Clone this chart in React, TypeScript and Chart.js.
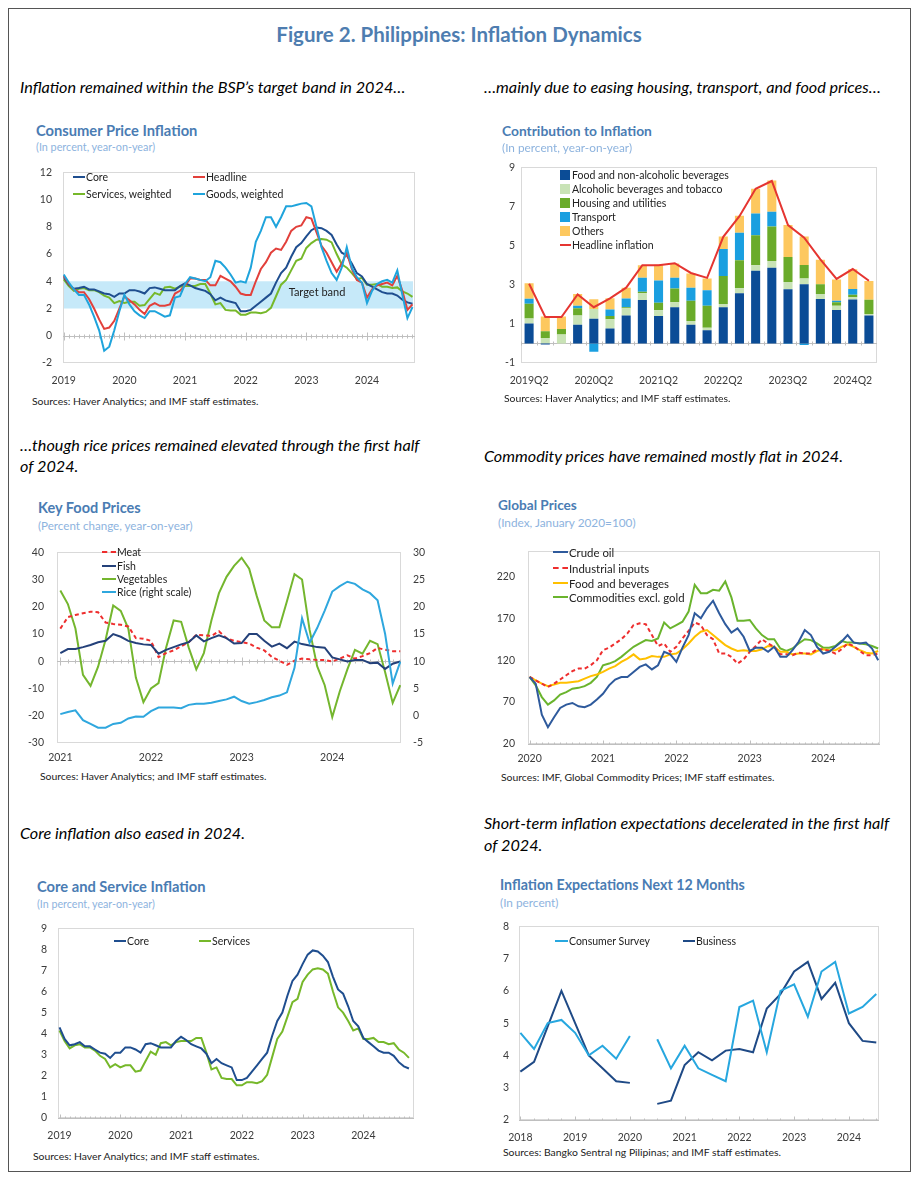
import React, { useEffect, useRef } from "react";
import { Chart, registerables } from "chart.js";

Chart.register(...registerables);

const FONT = "Lato, 'Open Sans', 'Liberation Sans', sans-serif";
Chart.defaults.font.family = FONT;
Chart.defaults.color = "#3b3b3b";
const TICK_COLOR = "#3b3b3b";

// ================= DATA =================
// Panel 1 & 5: monthly, Jan 2019 - Oct 2024
const cpiYearLabels = ["2019", "2020", "2021", "2022", "2023", "2024"];
const coreInflation = [
  4.3, 3.75, 3.45, 3.5, 3.6, 3.4, 3.4, 3.25, 3.1, 3.05, 2.85, 3.1,
  3.1, 3.35, 3.35, 3.25, 3.1, 3.5, 3.55, 3.45, 3.35, 3.35, 3.35, 3.65,
  3.85, 3.7, 3.5, 3.4, 3.3, 3.05, 2.6, 2.8, 2.6, 2.5, 2.4, 1.8,
  1.8, 1.9, 2.2, 2.5, 2.8, 3.1, 3.9, 4.6, 5.0, 5.8, 6.5, 6.8,
  7.3, 7.75, 7.95, 7.9, 7.7, 7.4, 6.7, 6.1, 5.9, 5.3, 4.6, 4.35,
  3.8, 3.6, 3.4, 3.2, 3.1, 3.1, 2.95, 2.65, 2.45, 2.35,
];
const servicesInflation = [
  4.15, 3.65, 3.3, 3.45, 3.5, 3.35, 3.35, 3.2, 2.95, 2.8, 2.4, 2.55,
  2.4, 2.5, 2.5, 2.2, 2.25, 2.7, 3.15, 3.0, 3.55, 3.6, 3.45, 3.6,
  3.65, 3.65, 3.65, 3.8, 3.8, 3.1, 2.3, 2.4, 1.9, 1.85, 1.85, 1.55,
  1.55, 1.7, 1.7, 1.65, 1.75, 2.05, 2.9, 3.75, 4.1, 4.8, 5.5, 5.65,
  6.45, 6.8, 7.05, 7.1, 7.05, 6.85, 6.0, 5.25, 5.0, 4.6, 4.15, 4.25,
  3.75, 3.75, 3.8, 3.6, 3.6, 3.5, 3.55, 3.25, 3.1, 2.85,
];
const headlineInflation = [
  4.4, 3.8, 3.4, 3.2, 3.2, 2.7, 2.0, 1.2, 0.5, 0.6, 1.1, 2.0,
  2.9, 2.6, 2.3, 1.9, 1.6, 2.2, 2.4, 2.2, 2.2, 2.3, 3.1, 3.3,
  3.7, 4.2, 4.2, 4.1, 4.1, 3.7, 3.7, 4.4, 4.2, 4.0, 3.6, 3.1,
  3.0, 3.0, 4.0, 4.9, 5.4, 6.1, 6.4, 6.3, 6.9, 7.7, 8.0, 8.1,
  8.7, 8.6, 7.6, 6.6, 6.1, 5.4, 4.7, 5.3, 6.1, 4.9, 4.1, 3.9,
  2.8, 3.4, 3.7, 3.8, 3.9, 3.7, 4.4, 3.3, 1.9, 2.3,
];
const goodsInflation = [
  4.5, 3.9, 3.4, 3.0, 3.0, 2.3, 1.4, 0.4, -1.1, -0.8, 0.4, 1.8,
  3.0, 2.3, 1.8, 1.5, 1.3, 1.8, 1.8, 1.6, 1.4, 1.5, 2.8, 2.9,
  3.8, 4.3, 4.2, 4.1, 4.0, 4.3, 5.5, 5.4, 5.0, 4.5, 3.9, 4.0,
  3.9, 5.0, 6.9, 7.7, 8.7, 8.7, 8.0, 8.7, 9.5, 9.5, 9.6, 9.7,
  9.75, 9.5, 8.0, 6.5, 5.5, 4.6, 4.1, 5.0, 6.5, 5.0, 4.3, 3.9,
  2.4, 3.3, 3.8, 4.0, 4.1, 3.9, 4.8, 3.0, 1.3, 2.1,
];

// Panel 2: quarterly contributions
const contribQuarters = [
  "2019Q2", "2019Q3", "2019Q4", "2020Q1", "2020Q2", "2020Q3", "2020Q4", "2021Q1",
  "2021Q2", "2021Q3", "2021Q4", "2022Q1", "2022Q2", "2022Q3", "2022Q4", "2023Q1",
  "2023Q2", "2023Q3", "2023Q4", "2024Q1", "2024Q2", "2024Q3",
];
const contribFood = [1.02, -0.05, 0, 0.96, 1.26, 0.76, 1.43, 2.22, 1.4, 1.85, 0.96, 0.67, 1.85, 2.57, 3.71, 3.87, 2.77, 3.03, 2.27, 1.71, 2.24, 1.43];
const contribAlcohol = [0.25, 0.28, 0.45, 0.47, 0.5, 0.47, 0.37, 0.35, 0.29, 0.25, 0.18, 0.13, 0.17, 0.25, 0.29, 0.34, 0.37, 0.29, 0.25, 0.22, 0.12, 0.08];
const contribHousing = [0.76, 0.34, 0.29, 0.37, 0, 0.17, 0.05, 0.07, 0.39, 0.71, 1.04, 1.13, 1.43, 1.43, 1.53, 1.76, 1.28, 0.69, 0.5, 0.17, 0.13, 0.72];
const contribTransport = [0.25, 0, 0, 0.13, -0.42, 0.34, 0.45, 0.72, 1.13, 0.55, 0.67, 0.79, 1.38, 1.41, 1.11, 0.76, -0.03, -0.08, 0, 0.08, 0.29, 0];
const contribOthers = [0.79, 0.76, 0.64, 0.59, 0.5, 0.57, 0.55, 0.64, 0.81, 0.72, 0.72, 0.6, 0.64, 0.86, 1.26, 1.6, 1.63, 1.46, 1.26, 1.09, 1.01, 0.96];
const contribHeadline = [3.05, 1.35, 1.35, 2.5, 1.85, 2.3, 2.85, 4.0, 4.0, 4.1, 3.6, 3.35, 5.45, 6.5, 7.9, 8.3, 6.05, 5.4, 4.3, 3.3, 3.8, 3.2];

// Panel 3: monthly, Jan 2021 - Oct 2024
const foodYearLabels = ["2021", "2022", "2023", "2024"];
const meatPrices = [
  12, 16.2, 17, 17.6, 18.2, 18, 14.2, 13.7, 13.4, 12.8,
  8.5, 8.3, 7.5, 1.5, 3, 4, 5.5, 7, 9.7, 9.5,
  9.3, 11, 8.5, 7.5, 7, 6.5, 5, 4, 1.6, 0.2,
  -1.3, 0.2, 1.0, 0.7, 0.5, 0.5, -0.1, 1.0, 2.2, 1.0,
  1.9, 3.0, 4.9, 4.2, 3.7, 3.7,
];
const fishPrices = [
  3, 4.5, 4.5, 5.2, 6, 7, 7.5, 10, 9, 7.5,
  6.7, 6.2, 6, 2.8, 4.2, 5.2, 6.2, 7, 9.5, 7.3,
  8.5, 9.5, 8.5, 6.5, 6.7, 10, 10, 7.5, 5.4, 6.5,
  4.8, 7.2, 6.3, 5.8, 5.2, 5.0, 1.4, 0.7, -0.1, 0.5,
  0.5, -0.7, -0.5, -2.8, -0.9, -0.1,
];
const vegetablePrices = [
  26, 21, 12, -5, -9, -2, 8, 20.5, 18.5, 12,
  -6, -15, -10, -8, 5, 15, 14.5, 5, -3, 3,
  15, 25, 31, 35, 38, 34, 24, 15, 12.5, 12.5,
  22, 32, 30, 11.5, -1.8, -8.8, -20.5, -11, -3, 4.2,
  2.8, 7.5, 6.3, -4, -15.3, -8.8,
];
const ricePrices = [
  0.3, 0.7, 1.0, -0.8, -1.5, -2.2, -2.2, -1.5, -1.3, -0.5,
  -0.15, -0.2, 0.85, 1.5, 1.5, 1.5, 1.4, 2.0, 2.2, 2.2,
  2.4, 2.7, 3.0, 3.5, 2.7, 2.2, 2.5, 2.9, 3.4, 3.7,
  4.3, 8.8, 17.9, 13.4, 16.1, 19.3, 22.8, 23.8, 24.6, 24.2,
  23.2, 22.5, 21.2, 15, 5.9, 9.9,
];

// Panel 4: monthly, Jan 2020 - Oct 2024 (index, Jan 2020 = 100)
const globalYearLabels = ["2020", "2021", "2022", "2023", "2024"];
const crudeOil = [
  100, 92, 55, 40, 52, 63, 67, 69, 65, 64,
  67, 73, 80, 90, 97, 100, 100, 106, 112, 115,
  109, 114, 130, 127, 118, 135, 150, 176, 170, 182,
  191, 176, 163, 153, 158, 148, 131, 135, 135, 130,
  136, 124, 124, 132, 142, 156, 150, 136, 128, 130,
  136, 142, 150, 141, 140, 141, 134, 120,
];
const industrialInputs = [
  100, 96, 92, 88, 92, 97, 102, 107, 110, 110,
  114, 120, 132, 135, 140, 145, 152, 162, 164, 163,
  150, 137, 140, 130, 136, 146, 155, 165, 162, 150,
  145, 128, 128, 124, 116, 121, 130, 137, 145, 140,
  136, 127, 127, 126, 129, 128, 128, 133, 133, 131,
  128, 133, 140, 137, 131, 126, 126, 128,
];
const foodBeverages = [
  100, 96, 92, 89, 91, 93, 93, 94, 95, 98,
  101, 103, 106, 110, 113, 118, 122, 127, 121, 122,
  125, 124, 124, 127, 128, 133, 140, 148, 154, 156,
  150, 144, 138, 134, 131, 132, 131, 131, 133, 137,
  136, 130, 130, 127, 128, 128, 127, 131, 133, 132,
  132, 136, 139, 136, 132, 129, 128, 131,
];
const commoditiesExGold = [
  100, 90, 76, 67, 72, 79, 82, 86, 87, 89,
  93, 100, 114, 116, 119, 124, 130, 136, 140, 144,
  143, 146, 165, 158, 162, 166, 178, 210, 200, 200,
  204, 203, 214, 195, 167, 167, 168, 158, 150, 145,
  145, 134, 131, 134, 140, 145, 144, 140, 135, 135,
  137, 143, 141, 141, 140, 139, 137, 134,
];
const globalTicks = [20, 70, 120, 170, 220];

// Panel 6: quarterly, 2018Q1 - 2024Q3
const expYearLabels = ["2018", "2019", "2020", "2021", "2022", "2023", "2024"];
const consumerExpectations = [4.7, 4.2, 5.0, 5.1, 4.7, 4.0, 4.3, 3.9, 4.6, null, 4.5, 3.6, 4.3, 3.6, 3.4, 3.2, 5.5, 5.7, 4.1, 6.0, 6.2, 5.2, 6.6, 6.9, 5.3, 5.5, 5.9];
const businessExpectations = [3.5, 3.8, 4.9, 6.0, 5.0, 4.0, 3.6, 3.2, 3.15, null, 2.5, 2.6, 3.7, 4.1, 3.85, 4.15, 4.2, 4.1, 5.45, 5.9, 6.6, 6.9, 5.75, 6.25, 5.0, 4.45, 4.4];

// ================= COLOURS =================
const C = {
  core: "#1f4e8f",
  headline: "#e2403b",
  services: "#76b82a",
  goods: "#1fa4dc",
  band: "#c6e9f9",
  food: "#0b4c96",
  alcohol: "#c9e3b6",
  housing: "#6aab2a",
  transport: "#1a9fe0",
  others: "#fdc85f",
  red: "#e53531",
  meat: "#ee2e2e",
  fish: "#24417a",
  veg: "#74b62e",
  rice: "#2fa7de",
  crude: "#2e5a9c",
  fnb: "#ffc000",
  comm: "#6ab42d",
  consumer: "#27a7df",
  business: "#1f4a86",
  title: "#4a7cb3",
  subtitle: "#8db3de",
  frame: "#d9d9d9",
  base: "#bfbfbf",
};

// ================= PLUGINS =================
const plotFrame = {
  id: "plotFrame",
  beforeDatasetsDraw(chart: any, _a: any, opts: any) {
    if (!opts || !opts.color) return;
    const { ctx, chartArea: a } = chart;
    ctx.save();
    ctx.strokeStyle = opts.color;
    ctx.lineWidth = 1;
    ctx.strokeRect(Math.round(a.left) + 0.5, Math.round(a.top) + 0.5, Math.round(a.right - a.left) - 1, Math.round(a.bottom - a.top) - 1);
    ctx.restore();
  },
};
const bandPlugin = {
  id: "band",
  beforeDatasetsDraw(chart: any, _a: any, opts: any) {
    if (!opts || opts.from === undefined) return;
    const { ctx, chartArea: a } = chart;
    const y = chart.scales.y;
    const y1 = y.getPixelForValue(opts.to);
    const y2 = y.getPixelForValue(opts.from);
    ctx.save();
    ctx.fillStyle = opts.color;
    ctx.fillRect(a.left + 1, y1, a.right - a.left - 3, y2 - y1);
    ctx.restore();
  },
};
const baseLine = {
  id: "baseLine",
  beforeDatasetsDraw(chart: any, _a: any, opts: any) {
    if (!opts || opts.value === undefined) return;
    const { ctx, chartArea: a } = chart;
    const y = Math.round(chart.scales.y.getPixelForValue(opts.value)) + 0.5;
    ctx.save();
    ctx.strokeStyle = opts.color || C.base;
    ctx.lineWidth = 1;
    ctx.beginPath();
    ctx.moveTo(a.left, y);
    ctx.lineTo(a.right, y);
    ctx.stroke();
    if (opts.step) {
      const xs = chart.scales.x;
      const end = opts.end !== undefined ? opts.end : xs.max;
      ctx.beginPath();
      let k = 0;
      for (let v = opts.start; v <= end + 1e-6; v += opts.step, k++) {
        const px = Math.round(xs.getPixelForValue(v)) + 0.5;
        if (px < a.left || px > a.right) continue;
        const major = opts.majorEvery && k % opts.majorEvery === 0;
        const up = major ? 4 : 2;
        const down = opts.bottom ? 0 : up;
        ctx.moveTo(px, y - up);
        ctx.lineTo(px, y + down);
      }
      ctx.stroke();
    }
    ctx.restore();
  },
};
Chart.register(plotFrame, bandPlugin, baseLine);

// ================= HELPERS =================
const TICK_FONT = { family: FONT, size: 10.5 };

function yAxis(min: number, max: number, step: number, width: number, pad: number, position = "left", fixedTicks?: number[]) {
  const ax: any = {
    type: "linear",
    position,
    min,
    max,
    grid: { display: false, drawTicks: false },
    border: { display: false },
    ticks: { stepSize: step, padding: pad, font: TICK_FONT, color: TICK_COLOR, autoSkip: false },
    afterFit: (s: any) => {
      s.width = width;
    },
  };
  if (fixedTicks) {
    ax.afterBuildTicks = (s: any) => {
      s.ticks = fixedTicks.map((v) => ({ value: v }));
    };
  }
  return ax;
}

function xYears(min: number, max: number, every: number, labels: string[], height: number, pad: number) {
  const values = labels.map((_, k) => k * every);
  return {
    type: "linear",
    min,
    max,
    grid: { display: false, drawTicks: false },
    border: { display: false },
    afterBuildTicks: (s: any) => {
      s.ticks = values.map((v) => ({ value: v }));
    },
    ticks: {
      padding: pad,
      autoSkip: false,
      maxRotation: 0,
      font: TICK_FONT,
      color: TICK_COLOR,
      callback: (v: any) => {
        const k = values.indexOf(Number(v));
        return k >= 0 ? labels[k] : "";
      },
    },
    afterFit: (s: any) => {
      s.height = height;
    },
  };
}

const pts = (arr: (number | null)[]) => arr.map((v, i) => ({ x: i, y: v }));

function lineDs(label: string, data: (number | null)[], color: string, dashed = false) {
  return {
    type: "line",
    label,
    data: pts(data),
    borderColor: color,
    backgroundColor: color,
    borderWidth: 2,
    borderDash: dashed ? [4, 3] : [],
    pointRadius: 0,
    tension: 0,
    spanGaps: false,
  };
}

function baseOpts(pt: number, pr: number, scales: any, plugins: any) {
  return {
    animation: false,
    responsive: true,
    maintainAspectRatio: false,
    events: [],
    layout: { padding: { top: pt, right: pr, left: 0, bottom: 0 } },
    scales,
    plugins: {
      legend: { display: false },
      tooltip: { enabled: false },
      title: { display: false },
      plotFrame: { color: C.frame },
      ...plugins,
    },
  };
}

type Rect = { l: number; t: number; r: number; b: number };

function ChartBox({ rect, yw, pt, pr, xh, make }: { rect: Rect; yw: number; pt: number; pr: number; xh: number; make: () => any }) {
  const ref = useRef<HTMLCanvasElement>(null);
  useEffect(() => {
    const chart = new Chart(ref.current as HTMLCanvasElement, make());
    return () => chart.destroy();
  }, []);
  const left = rect.l - yw;
  const top = rect.t - pt;
  const width = rect.r - rect.l + yw + pr;
  const height = rect.b - rect.t + pt + xh;
  return (
    <div style={{ position: "absolute", left, top, width, height }}>
      <canvas ref={ref} />
    </div>
  );
}

function T({ x, y, size, bold, italic, color = "#000", center, children }: any) {
  const lh = Math.round(size * 1.25);
  return (
    <div
      style={{
        position: "absolute",
        left: center ? x - 400 : x,
        width: center ? 800 : undefined,
        textAlign: center ? "center" : "left",
        top: y - lh / 2,
        lineHeight: lh + "px",
        fontSize: size,
        fontFamily: FONT,
        fontWeight: bold ? 700 : 400,
        fontStyle: italic ? "italic" : "normal",
        color,
        whiteSpace: "nowrap",
      }}
    >
      {children}
    </div>
  );
}

function Leg({ x, y, color, label, kind = "line", w = 12, size = 10.5 }: any) {
  return (
    <div
      style={{
        position: "absolute",
        left: x,
        top: y - 8,
        height: 16,
        display: "flex",
        alignItems: "center",
        whiteSpace: "nowrap",
        fontFamily: FONT,
        fontSize: size,
        color: "#222",
      }}
    >
      {kind === "box" ? (
        <span style={{ display: "inline-block", width: 10, height: 10, background: color, marginRight: 2 }} />
      ) : (
        <span
          style={{
            display: "inline-block",
            width: w,
            height: 0,
            borderTop: `2px ${kind === "dash" ? "dashed" : "solid"} ${color}`,
            marginRight: 1,
          }}
        />
      )}
      <span>{label}</span>
    </div>
  );
}

// ================= PANELS =================
const R1: Rect = { l: 63, t: 165, r: 415, b: 363 };
const R2: Rect = { l: 521, t: 165, r: 877, b: 363 };
const R3: Rect = { l: 57, t: 543, r: 401, b: 743 };
const R4: Rect = { l: 528, t: 542, r: 880, b: 744 };
const R5: Rect = { l: 58, t: 921, r: 414, b: 1118 };
const R6: Rect = { l: 519, t: 920, r: 879, b: 1120 };

function makeP1() {
  return {
    type: "line",
    data: {
      datasets: [
        lineDs("Goods, weighted", goodsInflation, C.goods),
        lineDs("Headline", headlineInflation, C.headline),
        lineDs("Core", coreInflation, C.core),
        lineDs("Services, weighted", servicesInflation, C.services),
      ],
    },
    options: baseOpts(10, 6, { x: xYears(-0.15, 69.5, 12, cpiYearLabels, 26, 11), y: yAxis(-2, 12, 2, 42, 11) }, {
      band: { from: 2, to: 4, color: C.band },
      baseLine: { value: 0, step: 1, start: 0, majorEvery: 12 },
    }),
  };
}

function makeP2() {
  const bar = (label: string, data: number[], color: string) => ({
    type: "bar",
    label,
    data,
    backgroundColor: color,
    borderWidth: 0,
    stack: "c",
    order: 1,
    barPercentage: 0.56,
    categoryPercentage: 1,
  });
  return {
    type: "bar",
    data: {
      labels: contribQuarters,
      datasets: [
        { type: "line", label: "Headline inflation", data: contribHeadline, borderColor: C.red, borderWidth: 2, pointRadius: 0, tension: 0, order: 0, stack: "h" },
        bar("Food and non-alcoholic beverages", contribFood, C.food),
        bar("Alcoholic beverages and tobacco", contribAlcohol, C.alcohol),
        bar("Housing and utilities", contribHousing, C.housing),
        bar("Transport", contribTransport, C.transport),
        bar("Others", contribOthers, C.others),
      ],
    },
    options: baseOpts(
      10,
      6,
      {
        x: {
          type: "category",
          stacked: true,
          grid: { display: false, drawTicks: false },
          border: { display: false },
          ticks: {
            autoSkip: false,
            maxRotation: 0,
            padding: 11,
            font: TICK_FONT,
            color: TICK_COLOR,
            callback: (_v: any, i: number) => (i % 4 === 0 ? contribQuarters[i] : ""),
          },
          afterFit: (s: any) => {
            s.height = 26;
          },
        },
        y: { ...yAxis(-1, 9, 2, 30, 6), stacked: true },
      },
      { baseLine: { value: 0, step: 1, start: -0.5, end: contribQuarters.length - 0.5 } }
    ),
  };
}

function makeP3() {
  const rice = { ...lineDs("Rice (right scale)", ricePrices, C.rice), yAxisID: "y1" };
  return {
    type: "line",
    data: {
      datasets: [
        rice,
        lineDs("Fish", fishPrices, C.fish),
        lineDs("Meat", meatPrices, C.meat, true),
        lineDs("Vegetables", vegetablePrices, C.veg),
      ],
    },
    options: baseOpts(
      10,
      0,
      {
        x: xYears(-0.44, 45.1, 12, foodYearLabels, 24, 8),
        y: yAxis(-30, 40, 10, 45, 13),
        y1: yAxis(-5, 30, 5, 36, 12, "right"),
      },
      { baseLine: { value: 0, step: 1, start: 0, majorEvery: 12 } }
    ),
  };
}

function makeP4() {
  return {
    type: "line",
    data: {
      datasets: [
        lineDs("Crude oil", crudeOil, C.crude),
        lineDs("Industrial inputs", industrialInputs, C.meat, true),
        lineDs("Food and beverages", foodBeverages, C.fnb),
        lineDs("Commodities excl. gold", commoditiesExGold, C.comm),
      ],
    },
    options: baseOpts(
      10,
      6,
      { x: xYears(-0.26, 57.3, 12, globalYearLabels, 24, 8), y: yAxis(20, 250, 50, 45, 13, "left", globalTicks) },
      { baseLine: { value: 20, step: 1, start: 0, majorEvery: 12, bottom: true } }
    ),
  };
}

function makeP5() {
  return {
    type: "line",
    data: {
      datasets: [lineDs("Core", coreInflation, C.core), lineDs("Services", servicesInflation, C.services)],
    },
    options: baseOpts(
      10,
      6,
      { x: xYears(-0.3, 70, 12, cpiYearLabels, 26, 11), y: yAxis(0, 9, 1, 42, 11) },
      { baseLine: { value: 0, step: 1, start: 0, majorEvery: 12, bottom: true } }
    ),
  };
}

function makeP6() {
  return {
    type: "line",
    data: {
      datasets: [
        lineDs("Consumer Survey", consumerExpectations, C.consumer),
        lineDs("Business", businessExpectations, C.business),
      ],
    },
    options: baseOpts(
      10,
      6,
      { x: xYears(-0.1, 26.2, 4, expYearLabels, 26, 11), y: yAxis(2, 8, 1, 40, 10) },
      { baseLine: { value: 2, step: 1, start: 0, majorEvery: 4, bottom: true } }
    ),
  };
}

export default function App() {
  const srcSize = 10.4;
  const capSize = 16.2;
  return (
    <div style={{ position: "absolute", left: 0, top: 0, width: 918, height: 1182, background: "#fff", fontFamily: FONT }}>
      <div style={{ position: "absolute", left: 8, top: 8, width: 901, height: 1162, border: "1px solid #555" }} />
      <T x={459} y={34} size={20.5} bold color="#4e7db0" center>
        Figure 2. Philippines: Inflation Dynamics
      </T>

      {/* Captions */}
      <T x={20} y={87} size={capSize} italic>Inflation remained within the BSP’s target band in 2024…</T>
      <T x={484} y={87} size={capSize} italic>…mainly due to easing housing, transport, and food prices…</T>
      <T x={20} y={445} size={capSize} italic>…though rice prices remained elevated through the first half</T>
      <T x={20} y={466} size={capSize} italic>of 2024.</T>
      <T x={484} y={456} size={capSize} italic>Commodity prices have remained mostly flat in 2024.</T>
      <T x={20} y={833} size={capSize} italic>Core inflation also eased in 2024.</T>
      <T x={484} y={823} size={capSize} italic>Short-term inflation expectations decelerated in the first half</T>
      <T x={484} y={845} size={capSize} italic>of 2024.</T>

      {/* Panel 1 */}
      <T x={36} y={130} size={14.7} bold color={C.title}>Consumer Price Inflation</T>
      <T x={36} y={147} size={10.8} color={C.subtitle}>(In percent, year-on-year)</T>
      <ChartBox rect={R1} yw={42} pt={10} pr={6} xh={26} make={makeP1} />
      <T x={317} y={292} size={11} center color="#222">Target band</T>
      <Leg x={73} y={177} color={C.core} label="Core" />
      <Leg x={193} y={177} color={C.headline} label="Headline" />
      <Leg x={73} y={194} color={C.services} label="Services, weighted" />
      <Leg x={193} y={194} color={C.goods} label="Goods, weighted" />
      <T x={32} y={401} size={srcSize} color="#222">Sources: Haver Analytics; and IMF staff estimates.</T>

      {/* Panel 2 */}
      <T x={502} y={130} size={13.8} bold color={C.title}>Contribution to Inflation</T>
      <T x={502} y={147} size={11.8} color={C.subtitle}>(In percent, year-on-year)</T>
      <ChartBox rect={R2} yw={30} pt={10} pr={6} xh={26} make={makeP2} />
      <Leg x={560} y={175} kind="box" color={C.food} label="Food and non-alcoholic beverages" />
      <Leg x={560} y={189} kind="box" color={C.alcohol} label="Alcoholic beverages and tobacco" />
      <Leg x={560} y={203} kind="box" color={C.housing} label="Housing and utilities" />
      <Leg x={560} y={217} kind="box" color={C.transport} label="Transport" />
      <Leg x={560} y={231} kind="box" color={C.others} label="Others" />
      <Leg x={560} y={245} color={C.red} label="Headline inflation" w={11} />
      <T x={504} y={398} size={srcSize} color="#222">Sources: Haver Analytics; and IMF staff estimates.</T>

      {/* Panel 3 */}
      <T x={38} y={508} size={14.5} bold color={C.title}>Key Food Prices</T>
      <T x={38} y={525} size={11.6} color={C.subtitle}>(Percent change, year-on-year)</T>
      <ChartBox rect={R3} yw={45} pt={10} pr={36} xh={24} make={makeP3} />
      <Leg x={102} y={552} color={C.meat} kind="dash" w={14} label="Meat" />
      <Leg x={102} y={566} color={C.fish} w={14} label="Fish" />
      <Leg x={102} y={579} color={C.veg} w={14} label="Vegetables" />
      <Leg x={102} y={592} color={C.rice} w={14} label="Rice (right scale)" />
      <T x={40} y={776} size={srcSize} color="#222">Sources: Haver Analytics; and IMF staff estimates.</T>

      {/* Panel 4 */}
      <T x={498} y={505} size={13.6} bold color={C.title}>Global Prices</T>
      <T x={498} y={522} size={11.8} color={C.subtitle}>(Index, January 2020=100)</T>
      <ChartBox rect={R4} yw={45} pt={10} pr={6} xh={24} make={makeP4} />
      <Leg x={553} y={552} color={C.crude} w={15} size={11.4} label="Crude oil" />
      <Leg x={553} y={568} color={C.meat} kind="dash" w={15} size={11.4} label="Industrial inputs" />
      <Leg x={553} y={583} color={C.fnb} w={15} size={11.4} label="Food and beverages" />
      <Leg x={553} y={597} color={C.comm} w={15} size={11.4} label="Commodities excl. gold" />
      <T x={501} y={777} size={srcSize} color="#222">Sources: IMF, Global Commodity Prices; IMF staff estimates.</T>

      {/* Panel 5 */}
      <T x={37} y={886} size={14.7} bold color={C.title}>Core and Service Inflation</T>
      <T x={37} y={903} size={10.7} color={C.subtitle}>(In percent, year-on-year)</T>
      <ChartBox rect={R5} yw={42} pt={10} pr={6} xh={26} make={makeP5} />
      <Leg x={114} y={941} color={C.core} label="Core" />
      <Leg x={199} y={941} color={C.services} label="Services" />
      <T x={33} y={1156} size={srcSize} color="#222">Sources: Haver Analytics; and IMF staff estimates.</T>

      {/* Panel 6 */}
      <T x={500} y={885} size={14.2} bold color={C.title}>Inflation Expectations Next 12 Months</T>
      <T x={500} y={902} size={11.8} color={C.subtitle}>(In percent)</T>
      <ChartBox rect={R6} yw={40} pt={10} pr={6} xh={26} make={makeP6} />
      <Leg x={555} y={941} color={C.consumer} w={13} size={10.5} label="Consumer Survey" />
      <Leg x={683} y={941} color={C.business} w={12} size={10.5} label="Business" />
      <T x={503} y={1152} size={srcSize} color="#222">Sources: Bangko Sentral ng Pilipinas; and IMF staff estimates.</T>
    </div>
  );
}
